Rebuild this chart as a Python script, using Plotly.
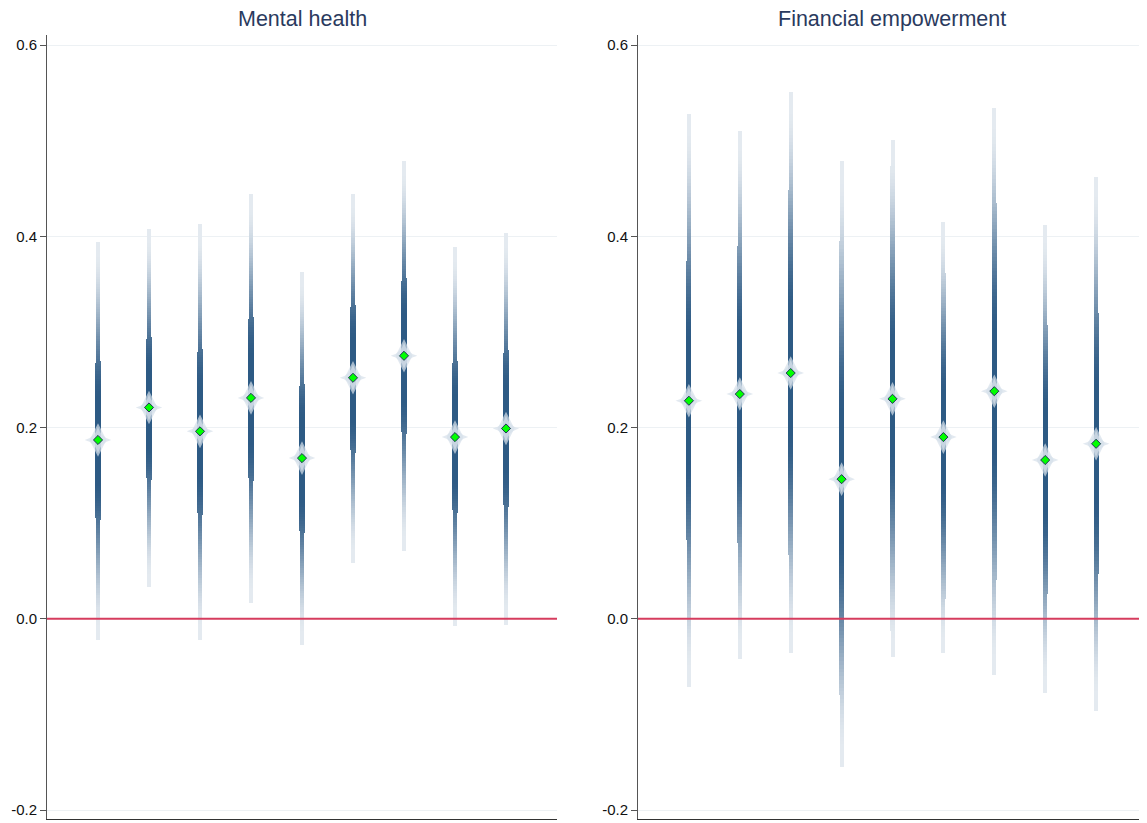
import numpy as np
import plotly.graph_objects as go

# ---- data ----
panels = ["Mental health", "Financial empowerment"]
positions = [1, 2, 3, 4, 5, 6, 7, 8, 9]

mental_est = [0.187, 0.221, 0.196, 0.231, 0.168, 0.252, 0.275, 0.190, 0.199]
mental_lo = [-0.022, 0.033, -0.022, 0.016, -0.027, 0.058, 0.071, -0.008, -0.006]
mental_hi = [0.394, 0.407, 0.412, 0.444, 0.362, 0.444, 0.478, 0.388, 0.403]

fin_est = [0.228, 0.235, 0.257, 0.146, 0.230, 0.190, 0.238, 0.166, 0.183]
fin_lo = [-0.071, -0.042, -0.036, -0.155, -0.040, -0.036, -0.059, -0.078, -0.096]
fin_hi = [0.527, 0.510, 0.550, 0.478, 0.500, 0.415, 0.534, 0.411, 0.462]

y_ticks = [-0.2, 0.0, 0.2, 0.4, 0.6]

DARK = np.array([45, 90, 132])
LIGHT = np.array([228, 234, 240])
PX_PER_UNIT = 51.0

W, H = 1139, 815  # page body has an 8px margin


def strip_bars(est, lo, hi, n=160):
    xs, bases, heights, widths, colors = [], [], [], [], []
    for x, e, l, h in zip(positions, est, lo, hi):
        edges = np.linspace(l, h, n + 1)
        step = edges[1] - edges[0]
        for a, b in zip(edges[:-1], edges[1:]):
            m = (a + b) / 2
            hw = (h - e) if m >= e else (e - l)
            d = abs(m - e) / hw
            t = np.clip((d - 0.20) / (0.95 - 0.20), 0, 1)
            inten = 1 - t * t * (3 - 2 * t)
            c = LIGHT + (DARK - LIGHT) * inten
            xs.append(x)
            bases.append(a)
            heights.append(step * 1.15)
            widths.append((4.0 + 1.2 * inten) / PX_PER_UNIT)
            colors.append("rgb(%d,%d,%d)" % tuple(np.round(c)))
    return xs, bases, heights, widths, colors


fig = go.Figure()
data_sets = [(mental_est, mental_lo, mental_hi), (fin_est, fin_lo, fin_hi)]
for k, (est, lo, hi) in enumerate(data_sets):
    xa = "x" if k == 0 else "x2"
    ya = "y" if k == 0 else "y2"
    # zero reference line
    fig.add_trace(go.Scatter(x=[0, 10], y=[0, 0], mode="lines",
                             line=dict(color="#d63c5e", width=1.8),
                             xaxis=xa, yaxis=ya, hoverinfo="skip", showlegend=False))
    # halo behind estimate
    fig.add_trace(go.Scatter(x=positions, y=est, mode="markers",
                             marker=dict(symbol="diamond-tall", size=24,
                                         color="rgba(214,223,233,0.7)", line=dict(width=0)),
                             xaxis=xa, yaxis=ya, hoverinfo="skip", showlegend=False))
    fig.add_trace(go.Scatter(x=positions, y=est, mode="markers",
                             marker=dict(symbol="star-diamond", size=19,
                                         color="rgba(214,223,233,0.7)", line=dict(width=0)),
                             xaxis=xa, yaxis=ya, hoverinfo="skip", showlegend=False))
    xs, bases, heights, widths, colors = strip_bars(est, lo, hi)
    fig.add_trace(go.Bar(x=xs, y=heights, base=bases, width=widths,
                         marker=dict(color=colors, line=dict(width=0)),
                         xaxis=xa, yaxis=ya, hoverinfo="skip", showlegend=False))
    fig.add_trace(go.Scatter(x=positions, y=est, mode="markers",
                             marker=dict(symbol="diamond", size=7, color="#00ff00",
                                         line=dict(color="#1d3557", width=1)),
                             xaxis=xa, yaxis=ya, hoverinfo="skip", showlegend=False))

font_family = "Liberation Sans, Arial, Helvetica, sans-serif"
yaxis_common = dict(range=[-0.2094, 0.6105], tickvals=y_ticks,
                    ticktext=["%.1f" % v for v in y_ticks],
                    showgrid=True, gridcolor="#edf1f4", gridwidth=1,
                    zeroline=False, showline=True, linecolor="#555555", linewidth=1,
                    ticks="outside", ticklen=6, tickcolor="#555555",
                    tickfont=dict(size=15, color="#111111", family=font_family),
                    automargin=False, fixedrange=True)
xaxis_common = dict(range=[0, 10], showgrid=False, zeroline=False, showline=True,
                    linecolor="#333333", linewidth=1, showticklabels=False, ticks="",
                    automargin=False, fixedrange=True)

dom1 = [39 / W, 549 / W]
dom2 = [630 / W, 1.0]
fig.update_layout(
    width=W, height=H,
    margin=dict(l=0, r=0, t=27, b=4),
    paper_bgcolor="white", plot_bgcolor="white",
    barmode="overlay", bargap=0,
    showlegend=False,
    font=dict(family=font_family),
    xaxis=dict(domain=dom1, anchor="y", **xaxis_common),
    yaxis=dict(domain=[0, 1], anchor="x", **yaxis_common),
    xaxis2=dict(domain=dom2, anchor="y2", **xaxis_common),
    yaxis2=dict(domain=[0, 1], anchor="x2", **yaxis_common),
    annotations=[
        dict(text=panels[0], x=sum(dom1) / 2, y=1, xref="paper", yref="paper",
             xanchor="center", yanchor="bottom", yshift=2, showarrow=False,
             font=dict(size=21.5, color="#2a3a5e", family=font_family)),
        dict(text=panels[1], x=sum(dom2) / 2 - 0.0005, y=1, xref="paper", yref="paper",
             xanchor="center", yanchor="bottom", yshift=2, showarrow=False,
             font=dict(size=21.5, color="#2a3a5e", family=font_family)),
    ],
)

fig.write_html("out.html")
